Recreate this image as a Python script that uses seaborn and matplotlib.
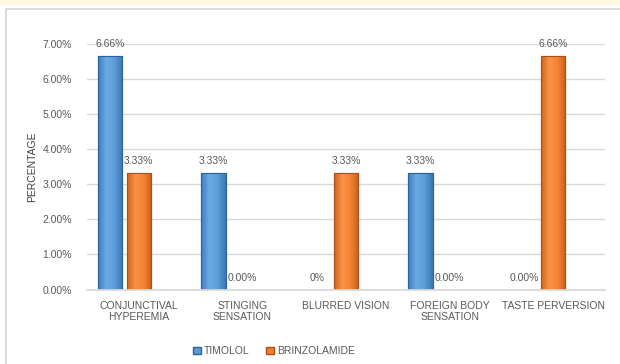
import numpy as np
import pandas as pd
import seaborn as sns
import matplotlib
matplotlib.use('Agg')
import matplotlib.pyplot as plt
from matplotlib.patches import Patch, Rectangle
from matplotlib.colors import LinearSegmentedColormap

# data (percent)
categories = ['CONJUNCTIVAL\nHYPEREMIA', 'STINGING\nSENSATION', 'BLURRED VISION',
              'FOREIGN BODY\nSENSATION', 'TASTE PERVERSION']
timolol = [6.66, 3.33, 0.0, 3.33, 0.0]
brinzolamide = [3.33, 0.0, 3.33, 0.0, 6.66]
timolol_labels = ['6.66%', '3.33%', '0%', '3.33%', '0.00%']
brinzolamide_labels = ['3.33%', '0.00%', '3.33%', '0.00%', '6.66%']
series = ['TIMOLOL', 'BRINZOLAMIDE']
yticks = [0, 1, 2, 3, 4, 5, 6, 7]

df = pd.DataFrame({
    'category': categories * 2,
    'drug': [series[0]] * 5 + [series[1]] * 5,
    'value': timolol + brinzolamide,
})

sns.set_theme(style='white')
plt.rcParams['font.family'] = ['Liberation Sans', 'DejaVu Sans']
txt = '#595959'

fig = plt.figure(figsize=(6.2, 3.64), dpi=100)
fig.patch.set_facecolor('white')
# page strip + chart frame like the source
fig.patches.append(Rectangle((0, 1 - 5 / 364), 1, 5 / 364, transform=fig.transFigure,
                             facecolor='#FFF9E3', edgecolor='none'))
fig.patches.append(Rectangle((5.5 / 620, -0.01), 1.1, 1 - 9 / 364 + 0.01, transform=fig.transFigure,
                             facecolor='none', edgecolor='#D4D4D4', lw=1.2))

ax = fig.add_axes([87 / 620, 1 - 289.5 / 364, 518 / 620, 245.5 / 364])

blue, orange = '#5B9BD5', '#F07F2E'
# third, empty hue level puts the orange bar on the category centre (as in the source)
pal = {series[0]: blue, series[1]: orange, ' ': 'white'}
sns.barplot(data=df, x='category', y='value', hue='drug',
            hue_order=series + [' '], palette=pal, width=0.84, gap=0.16,
            legend=False, ax=ax, saturation=1)

ax.set_ylim(0, 7)
ax.set_xlim(-0.5, 4.5)

# cylinder-like shading of the bars
grads = [LinearSegmentedColormap.from_list('b', ['#3F7DC0', '#6AAAE4', '#5C9DDA', '#3A75B5']),
         LinearSegmentedColormap.from_list('o', ['#D0661F', '#FA9248', '#F28434', '#C95E1A'])]
edges = ['#2F6399', '#A9501A']
shade = np.linspace(0, 1, 64).reshape(1, -1)
for cont, ec, cm, labs in zip(ax.containers[:2], edges, grads, [timolol_labels, brinzolamide_labels]):
    for p in cont:
        p.set_edgecolor(ec)
        p.set_linewidth(0.8)
        h = p.get_height()
        if h > 0:
            x0, w = p.get_x(), p.get_width()
            im = ax.imshow(shade, cmap=cm, aspect='auto', extent=(x0, x0 + w, 0, h),
                           zorder=p.get_zorder() + 0.1)
            im.set_clip_path(p)
            ax.add_patch(Rectangle((x0, 0), w, h, facecolor='none', edgecolor=ec,
                                   lw=0.8, zorder=p.get_zorder() + 0.2))
    ax.bar_label(cont, labels=labs, padding=5, fontsize=7.5, color=txt)

ax.set_xlim(-0.5, 4.5)
ax.set_ylim(0, 7)
ax.set_yticks(yticks)
ax.set_yticklabels([f'{v:.2f}%' for v in yticks], fontsize=7.5, color=txt)
ax.tick_params(axis='x', labelsize=7.5, labelcolor=txt, pad=8, length=0)
ax.tick_params(axis='y', length=0, pad=11)
ax.set_xlabel('')
ax.set_ylabel('PERCENTAGE', fontsize=7.5, color='#404040', labelpad=4)
ax.yaxis.grid(True, color='#D9D9D9', lw=1)
ax.set_axisbelow(True)
for s in ['top', 'right', 'left']:
    ax.spines[s].set_visible(False)
ax.spines['bottom'].set_color('#D9D9D9')

handles = [Patch(facecolor=blue, edgecolor=edges[0]), Patch(facecolor=orange, edgecolor=edges[1])]
fig.legend(handles, series, loc='center', bbox_to_anchor=(274 / 620, 1 - 351 / 364),
           ncol=2, frameon=False, fontsize=7.5, labelcolor=txt,
           handlelength=0.7, handleheight=0.7, handletextpad=0.3, columnspacing=1.6)

fig.savefig('out.png', dpi=100)
